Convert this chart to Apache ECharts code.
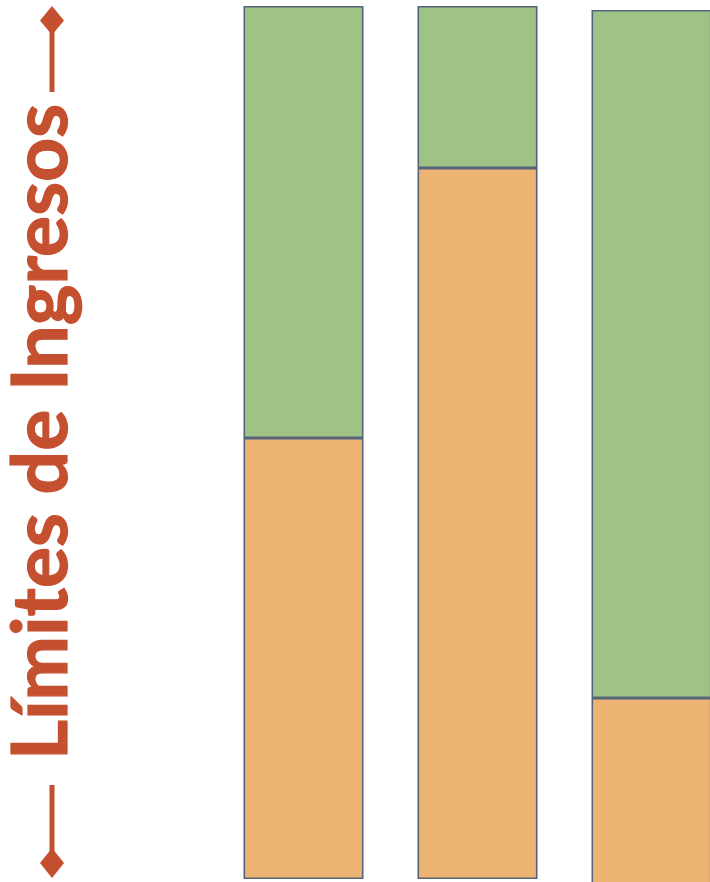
<!DOCTYPE html>
<html>
<head>
<meta charset="utf-8">
<script src="https://cdn.jsdelivr.net/npm/echarts@6/dist/echarts.min.js"></script>
<style>
html,body{margin:0;padding:0;background:#fff;}
#c{width:710px;height:882px;}
</style>
</head>
<body>
<div id="c"></div>
<script>
// Data (value units: chart height units, axis 0..892)
const categories = ['Caso 1', 'Caso 2', 'Caso 3'];
const baseOffset = [13, 13, 0];        // empty space below bars (bar 3 runs off the bottom)
const orangeValues = [441, 711, 194];  // lower (orange) segment
const greenValues = [432, 162, 688];   // upper (green) segment
const axisTitle = 'Límites de Ingresos';

const chart = echarts.init(document.getElementById('c'), null, {renderer: 'canvas'});
const borderColor = '#56637a';
const accent = '#c4502f';

const option = {
  animation: false,
  backgroundColor: '#ffffff',
  grid: {left: 216.5, top: 0, width: 522, height: 892, outerBoundsMode: 'none'},
  xAxis: {
    type: 'category', data: categories, show: false
  },
  yAxis: {type: 'value', min: 0, max: 892, show: false},
  series: [
    {name: 'base', type: 'bar', stack: 's', data: baseOffset, barWidth: 120,
     itemStyle: {color: 'rgba(0,0,0,0)', borderWidth: 0}, silent: true},
    {name: 'naranja', type: 'bar', stack: 's', data: orangeValues, barWidth: 120,
     itemStyle: {color: '#ecb373', borderColor: borderColor, borderWidth: 1.6}},
    {name: 'verde', type: 'bar', stack: 's', data: greenValues, barWidth: 120,
     itemStyle: {color: '#9fc386', borderColor: borderColor, borderWidth: 1.6}}
  ],
  graphic: [
    {type: 'text', x: 42, y: 432, rotation: Math.PI / 2,
     style: {text: axisTitle, fill: accent, stroke: accent, lineWidth: 1.2,
             font: 'bold 77px Lato', align: 'center', verticalAlign: 'middle'}},
    {type: 'line', shape: {x1: 52, y1: 30, x2: 52, y2: 92}, style: {stroke: accent, lineWidth: 5}},
    {type: 'polygon', shape: {points: [[52, 6], [64, 20.5], [52, 35], [40, 20.5]]}, style: {fill: accent}},
    {type: 'line', shape: {x1: 52, y1: 785, x2: 52, y2: 852}, style: {stroke: accent, lineWidth: 5}},
    {type: 'polygon', shape: {points: [[52, 848], [64, 863], [52, 878], [40, 863]]}, style: {fill: accent}}
  ]
};
chart.setOption(option);
</script>
</body>
</html>
